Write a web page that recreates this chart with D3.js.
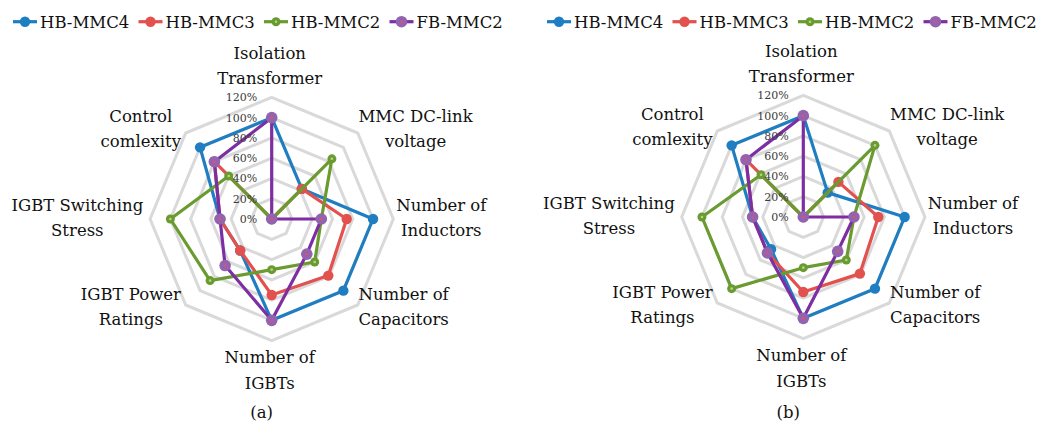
<!DOCTYPE html>
<html>
<head>
<meta charset="utf-8">
<script src="https://cdn.jsdelivr.net/npm/d3@7"></script>
<style>
  html, body { margin: 0; padding: 0; background: #ffffff; }
  svg { display: block; }
</style>
</head>
<body>
<svg id="chart" width="1046" height="428" font-family="'DejaVu Serif', 'Liberation Serif', serif"></svg>
<script>
// Axis categories (each split into the two lines it is printed on)
const categories = [
  ["Isolation", "Transformer"],
  ["MMC DC-link", "voltage"],
  ["Number of", "Inductors"],
  ["Number of", "Capacitors"],
  ["Number of", "IGBTs"],
  ["IGBT Power", "Ratings"],
  ["IGBT Switching", "Stress"],
  ["Control", "comlexity"]
];

const seriesNames = ["HB-MMC4", "HB-MMC3", "HB-MMC2", "FB-MMC2"];

// Panel (a) values, percent
const hbMmc4A = [100, 42, 100, 100, 100, 44, 51, 100];
const hbMmc3A = [0, 42, 74, 79, 75, 44, 51, 80];
const hbMmc2A = [0, 84, 49, 60, 50, 86, 100, 60];
const fbMmc2A = [100, 0, 49, 49, 100, 65, 51, 80];

// Panel (b) values, percent
const hbMmc4B = [100, 34, 100, 100, 100, 45, 50, 100];
const hbMmc3B = [0, 49, 74, 79, 74, 50, 50, 80];
const hbMmc2B = [0, 100, 50, 60, 50, 100, 100, 59];
const fbMmc2B = [100, 0, 50, 48, 100, 50, 50, 80];

// Radial tick values and their labels
const tickValues = [0, 20, 40, 60, 80, 100, 120];
const tickLabels = ["0%", "20%", "40%", "60%", "80%", "100%", "120%"];

const panelCaptions = ["(a)", "(b)"];

// ---- styling ----
const lineColors   = ["#1f7dc2", "#e2514e", "#6a9b30", "#7d2ea3"];
const markerFill   = ["#1f7dc2", "#e2514e", "#6a9b30", "#9263ae"];
const markerRadius = [5.2, 5.2, 4.5, 5.8];
const markerCore   = [null, null, "#b5d38a", "#e4506a"];
const gridColor = "#d9d9d9";
const labelFont = 16.5;
const tickFont = 11;

const svg = d3.select("#chart");

const panels = [
  { cx: 271.7, cy: 219, data: [hbMmc4A, hbMmc3A, hbMmc2A, fbMmc2A], caption: panelCaptions[0], capDx: -10, legendX: 13 },
  { cx: 803.3, cy: 217, data: [hbMmc4B, hbMmc3B, hbMmc2B, fbMmc2B], caption: panelCaptions[1], capDx: -15, legendX: 547 }
];

const r = d3.scaleLinear().domain([0, 120]).range([0, 121.6]);
const angle = d3.scaleLinear().domain([0, categories.length]).range([0, 2 * Math.PI]);

const radial = d3.lineRadial()
  .angle((d, i) => angle(i))
  .radius(d => r(d))
  .curve(d3.curveLinearClosed);

panels.forEach(p => {
  const g = svg.append("g").attr("transform", `translate(${p.cx},${p.cy})`);

  // Octagonal gridlines
  g.append("g").selectAll("path")
    .data(tickValues.filter(v => v > 0))
    .join("path")
    .attr("d", v => radial(categories.map(() => v)))
    .attr("fill", "none")
    .attr("stroke", gridColor)
    .attr("stroke-width", 3)
    .attr("stroke-linejoin", "miter");

  // Series polygons with markers
  p.data.forEach((vals, s) => {
    const sg = g.append("g");
    sg.append("path")
      .attr("d", radial(vals))
      .attr("fill", "none")
      .attr("stroke", lineColors[s])
      .attr("stroke-width", 3.2)
      .attr("stroke-linejoin", "round");
    const pts = vals.map((v, i) => {
      const a = angle(i);
      return [Math.sin(a) * r(v), -Math.cos(a) * r(v)];
    });
    sg.selectAll("circle.m")
      .data(pts)
      .join("circle")
      .attr("class", "m")
      .attr("cx", d => d[0])
      .attr("cy", d => d[1])
      .attr("r", markerRadius[s])
      .attr("fill", markerFill[s]);
    if (markerCore[s]) {
      sg.selectAll("circle.c")
        .data(pts)
        .join("circle")
        .attr("class", "c")
        .attr("cx", d => d[0])
        .attr("cy", d => d[1])
        .attr("r", 1.3)
        .attr("fill", markerCore[s]);
    }
  });

  // Radial tick labels along the top axis
  g.append("g").selectAll("text")
    .data(tickValues)
    .join("text")
    .attr("x", -14.5)
    .attr("y", v => -r(v))
    .attr("dy", "0.35em")
    .attr("text-anchor", "end")
    .attr("font-size", tickFont)
    .attr("fill", "#3a3a3a")
    .text((v, i) => tickLabels[i]);

  // Category labels outside the outer ring
  categories.forEach((lines, i) => {
    const a = angle(i);
    const sx = Math.sin(a), sy = -Math.cos(a);
    const lg = g.append("g");
    const texts = lines.map(t => lg.append("text")
      .attr("font-size", labelFont)
      .attr("fill", "#111")
      .attr("text-anchor", "middle")
      .text(t));
    const w = d3.max(texts, t => t.node().getComputedTextLength());
    let x, ys;
    if (Math.abs(sx) < 0.1) {
      x = -2;
      if (sy < 0) ys = [-160, -135];
      else ys = [144, 169.5];
    } else {
      const labR = Math.abs(sy) < 0.1 ? 126.5 : 125.5;
      const ax = labR * sx - 2, ay = labR * sy;
      x = ax + Math.sign(sx) * w / 2;
      ys = [ay + 4.5 - 12.5, ay + 4.5 + 12.5];
    }
    texts.forEach((t, k) => t.attr("x", x).attr("y", ys[k]));
  });

  // Panel caption
  svg.append("text")
    .attr("x", p.cx + p.capDx)
    .attr("y", 418)
    .attr("text-anchor", "middle")
    .attr("font-size", labelFont)
    .attr("fill", "#111")
    .text(p.caption);

  // Legend
  const lg = svg.append("g").attr("transform", `translate(${p.legendX},21.7)`);
  seriesNames.forEach((name, s) => {
    const item = lg.append("g").attr("transform", `translate(${s * 125.5},0)`);
    item.append("line")
      .attr("x1", 0).attr("x2", 24).attr("y1", 0).attr("y2", 0)
      .attr("stroke", lineColors[s]).attr("stroke-width", 3.2);
    item.append("circle").attr("cx", 12).attr("cy", 0)
      .attr("r", markerRadius[s]).attr("fill", markerFill[s]);
    if (markerCore[s]) {
      item.append("circle").attr("cx", 12).attr("cy", 0)
        .attr("r", 1.3).attr("fill", markerCore[s]);
    }
    item.append("text")
      .attr("x", 27).attr("y", 6.3)
      .attr("font-size", labelFont)
      .attr("fill", "#111")
      .text(name);
  });
});
</script>
</body>
</html>
